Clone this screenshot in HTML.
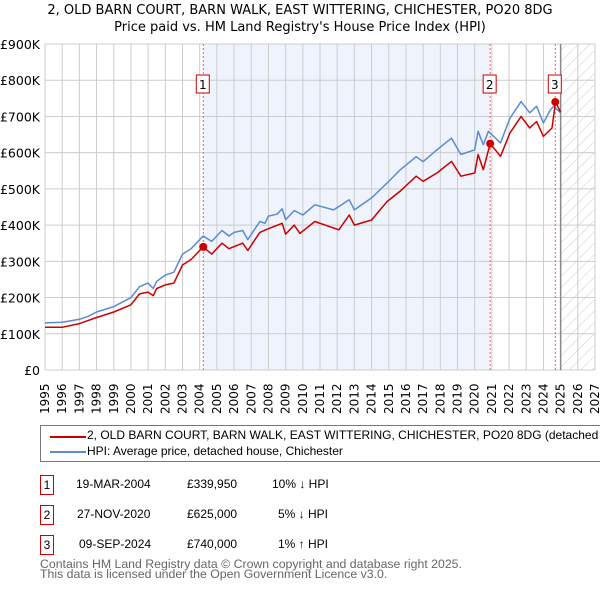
<!DOCTYPE html>
<html><head><meta charset="utf-8"><style>
body{margin:0;background:#fff;font-family:"DejaVu Sans","Liberation Sans",sans-serif;}
#wrap{position:relative;width:600px;height:590px;overflow:hidden;}
.t{position:absolute;font-size:12px;color:#000;white-space:nowrap;font-family:"Liberation Sans",sans-serif;}
.box{position:absolute;border:1px solid #c00;width:12px;height:18px;font-size:12px;text-align:center;line-height:18px;font-family:"Liberation Sans",sans-serif;}
</style></head><body><div id="wrap">
<svg id="chart" width="600" height="420" style="position:absolute;left:0;top:0"></svg>
<div style="position:absolute;left:40px;top:425px;width:570px;height:35px;border:1px solid #777;"></div>
<div style="position:absolute;left:50px;top:436px;width:36px;height:2px;background:#c00"></div>
<div class="t" style="left:87px;top:428px;font-size:12px">2, OLD BARN COURT, BARN WALK, EAST WITTERING, CHICHESTER, PO20 8DG (detached house)</div>
<div style="position:absolute;left:50px;top:451px;width:36px;height:2px;background:#5b8bd0"></div>
<div class="t" style="left:87px;top:444px;font-size:12px">HPI: Average price, detached house, Chichester</div>

<div class="box" style="left:40px;top:475px">1</div>
<div class="t" style="left:76px;top:477px">19-MAR-2004</div>
<div class="t" style="left:187px;top:477px">£339,950</div>
<div class="t" style="left:272px;top:477px">10% ↓ HPI</div>
<div class="box" style="left:40px;top:505px">2</div>
<div class="t" style="left:77px;top:507px">27-NOV-2020</div>
<div class="t" style="left:187px;top:507px">£625,000</div>
<div class="t" style="left:278px;top:507px">5% ↓ HPI</div>
<div class="box" style="left:40px;top:535px">3</div>
<div class="t" style="left:79px;top:537px">09-SEP-2024</div>
<div class="t" style="left:187px;top:537px">£740,000</div>
<div class="t" style="left:278px;top:537px">1% ↑ HPI</div>
<div class="t" style="left:40px;top:559px;color:#666;font-size:12.3px;line-height:10px">Contains HM Land Registry data © Crown copyright and database right 2025.<br>This data is licensed under the Open Government Licence v3.0.</div>
</div>
<script>
const years=[1995,1996,1997,1998,1999,2000,2001,2002,2003,2004,2005,2006,2007,2008,2009,2010,2011,2012,2013,2014,2015,2016,2017,2018,2019,2020,2021,2022,2023,2024,2025,2026,2027];
const yTicks=[0,100,200,300,400,500,600,700,800,900];
const yTickLabels=["£0","£100K","£200K","£300K","£400K","£500K","£600K","£700K","£800K","£900K"];
const hpiDates=[1995,1996,1997,1997.5,1998,1999,2000,2000.5,2001,2001.3,2001.5,2002,2002.5,2003,2003.5,2004,2004.2,2004.7,2005.3,2005.7,2006,2006.5,2006.8,2007.5,2007.8,2008,2008.5,2008.8,2009,2009.5,2010,2010.7,2011.8,2012.7,2013,2014,2014.9,2015.65,2016.6,2017,2017.8,2018.65,2019.2,2020,2020.2,2020.5,2020.8,2021.5,2022.05,2022.7,2023.2,2023.6,2024,2024.4,2024.6,2025];
const hpiValues=[130,132,140,148,160,175,200,230,240,225,245,262,270,320,335,360,370,355,385,370,380,385,360,410,405,425,430,445,415,440,428,456,442,470,442,475,516,552,589,575,608,640,595,608,659,622,659,627,695,741,710,728,682,718,728,710];
const saleDates=[1995,1996,1997,1998,1999,2000,2000.5,2001,2001.3,2001.5,2002,2002.5,2003,2003.5,2004.2,2004.7,2005.3,2005.7,2006.5,2006.8,2007.5,2008,2008.8,2009,2009.5,2009.83,2010.7,2012.1,2012.7,2013,2014,2014.9,2015.65,2016.6,2017,2017.8,2018.65,2019.2,2020,2020.2,2020.5,2020.9,2021.5,2022.05,2022.7,2023.2,2023.6,2024,2024.5,2024.7,2025];
const saleValues=[118,118,128,145,160,180,210,215,205,225,235,240,290,305,339.95,320,350,335,350,330,380,390,405,375,400,377,410,387,428,400,414,465,493,535,521,544,576,535,544,595,553,625,590,654,700,668,686,645,668,740,712];
const markerDates=[2004.21,2020.9,2024.69];
const markerValues=[339.95,625,740];
const markerLabels=["1","2","3"];

const svg=document.getElementById('chart');
const NS='http://www.w3.org/2000/svg';
const L=45,R=595,T=44,B=370;
const xs=y=>L+(y-1995)/(2027-1995)*(R-L);
const ys=v=>B-v/900*(B-T);
function mk(tag,attrs){const e=document.createElementNS(NS,tag);for(const k in attrs)e.setAttribute(k,attrs[k]);svg.appendChild(e);return e;}
let e;
e=mk('text',{x:300,y:14,'text-anchor':'middle','font-size':'13','font-family':'DejaVu Sans, Liberation Sans, sans-serif'});


e.textContent='2, OLD BARN COURT, BARN WALK, EAST WITTERING, CHICHESTER, PO20 8DG';
e=mk('text',{x:300,y:31,'text-anchor':'middle','font-size':'13','font-family':'DejaVu Sans, Liberation Sans, sans-serif'});


e.textContent="Price paid vs. HM Land Registry's House Price Index (HPI)";
e=mk('rect',{x:xs(markerDates[0]),y:T,width:xs(markerDates[1])-xs(markerDates[0]),height:B-T,fill:'#eef3fc'});


const defs=mk('defs',{});
defs.innerHTML='<pattern id="h" width="8" height="8" patternUnits="userSpaceOnUse" patternTransform="rotate(45)"><line x1="0" y1="0" x2="0" y2="8" stroke="#ccc" stroke-width="1"/></pattern>';
e=mk('rect',{x:xs(2025),y:T,width:R-xs(2025),height:B-T,fill:'url(#h)'});


years.forEach(y=>{e=mk('line',{x1:xs(y),x2:xs(y),y1:T,y2:B,stroke:'#ccc','stroke-width':1});


e=mk('text',{transform:`translate(${xs(y)+4},414) rotate(-90)`,'font-size':'12','font-family':'DejaVu Sans, Liberation Sans, sans-serif'});


e.textContent=y;});
yTicks.forEach((v,i)=>{e=mk('line',{x1:L,x2:R,y1:ys(v),y2:ys(v),stroke:'#ccc','stroke-width':1});


e=mk('text',{x:L-5,y:ys(v)+5,'text-anchor':'end','font-size':'12.5','font-family':'DejaVu Sans, Liberation Sans, sans-serif'});


e.textContent=yTickLabels[i];});
e=mk('line',{x1:xs(2025),x2:xs(2025),y1:T,y2:B,stroke:'#888','stroke-width':1.5});


markerDates.forEach(d=>{e=mk('line',{x1:xs(d),x2:xs(d),y1:T,y2:B,stroke:'#f06070','stroke-width':1,'stroke-dasharray':'2,2'});

});
function path(dx,vs,col,name){const d=dx.map((x,i)=>(i?'L':'M')+xs(x).toFixed(1)+','+ys(vs[i]).toFixed(1)).join('');
const p=mk('path',{d:d,fill:'none',stroke:col,'stroke-width':1.5,'stroke-linejoin':'round'});

}
path(hpiDates,hpiValues,'#5b8bd0','hpi-line');
path(saleDates,saleValues,'#c00','property-price-line');
markerDates.forEach((d,i)=>{e=mk('circle',{cx:xs(d),cy:ys(markerValues[i]),r:4,fill:'#c00'});


e=mk('rect',{x:xs(d)-7,y:75,width:13,height:18,fill:'#fff',stroke:'#c00'});


e=mk('text',{x:xs(d)-0.5,y:89,'text-anchor':'middle','font-size':'12','font-family':'DejaVu Sans, sans-serif'});


e.textContent=markerLabels[i];});
</script></body></html>
